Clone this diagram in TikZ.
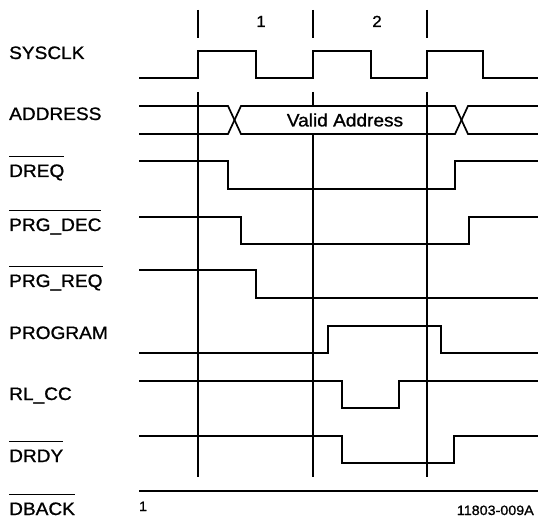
\documentclass[tikz,border=0pt]{standalone}
\usepackage{fontspec}
\setmainfont{Liberation Sans}[FakeStretch=1.06, FakeBold=1]
\usetikzlibrary{positioning}

\newcommand*{\ovl}[1]{\setbox0\hbox{#1}\rlap{\rule[20pt]{\wd0}{1.3pt}}\box0}

\begin{document}
\begin{tikzpicture}[x=1pt, y=-1pt,
  signal/.style={line width=1.7pt, line join=miter},
  marker/.style={line width=1.7pt},
  sig label/.style={anchor=base west, inner sep=0pt, font=\fontsize{18}{18}\selectfont},
  cycle label/.style={anchor=base, inner sep=0pt, font=\fontsize{16}{16}\selectfont},
  note/.style={inner sep=0pt, font=\fontsize{13.5}{13.5}\selectfont}]

\useasboundingbox (0,0) rectangle (538,518);

\newcommand*{\siglabel}[3]{\node [sig label] (#1) at (9,#2) {#3}}

% LABELS

\siglabel{sysclk}{59}{SYSCLK};
\siglabel{addr}{120}{ADDRESS};
\siglabel{dreq}{177}{\ovl{DREQ}};
\siglabel{prgdec}{231}{\ovl{PRG\_DEC}};
\siglabel{prgreq}{287}{\ovl{PRG\_REQ}};
\siglabel{program}{339}{PROGRAM};
\siglabel{rlcc}{400}{RL\_CC};
\siglabel{drdy}{462}{\ovl{DRDY}};
\siglabel{dback}{515}{\ovl{DBACK}};

% CYCLES

\foreach \x in {198,313,427} {
  \draw[marker] (\x,10) -- (\x,38);
  \draw[marker] (\x,92) -- (\x,477);
}
\node [cycle label] (cyc1) at (261,27) {1};
\node [cycle label] (cyc2) at (377,27) {2};

% SIGNALS

\draw[signal] (139,78) -- (198,78) -- (198,51) -- (256,51) -- (256,78) -- (313,78) -- (313,51)
  -- (371,51) -- (371,78) -- (427,78) -- (427,51) -- (483,51) -- (483,78) -- (538,78);
\node [fill=white, inner xsep=2pt, minimum height=26pt, font=\fontsize{18}{18}\selectfont] (valid) at (345,120) {Valid Address};
\draw[signal] (139,106) -- (228,106) -- (241,134) -- (455,134) -- (468,106) -- (538,106);
\draw[signal] (139,134) -- (228,134) -- (241,106) -- (455,106) -- (468,134) -- (538,134);
\draw[signal] (139,161) -- (228,161) -- (228,189) -- (455,189) -- (455,161) -- (538,161);
\draw[signal] (139,217) -- (241,217) -- (241,244) -- (469,244) -- (469,217) -- (538,217);
\draw[signal] (139,270) -- (256,270) -- (256,298) -- (538,298);
\draw[signal] (139,353) -- (328,353) -- (328,326) -- (441,326) -- (441,353) -- (538,353);
\draw[signal] (139,381) -- (342,381) -- (342,408) -- (399,408) -- (399,381) -- (538,381);
\draw[signal] (139,436) -- (342,436) -- (342,463) -- (454,463) -- (454,436) -- (538,436);
\draw[signal] (139,491) -- (538,491);

% NOTES

\node [note, anchor=base] (pg) at (143,511) {1};
\node [note, anchor=base east] (fig) at (534,515) {11803-009A};

\end{tikzpicture}
\end{document}
